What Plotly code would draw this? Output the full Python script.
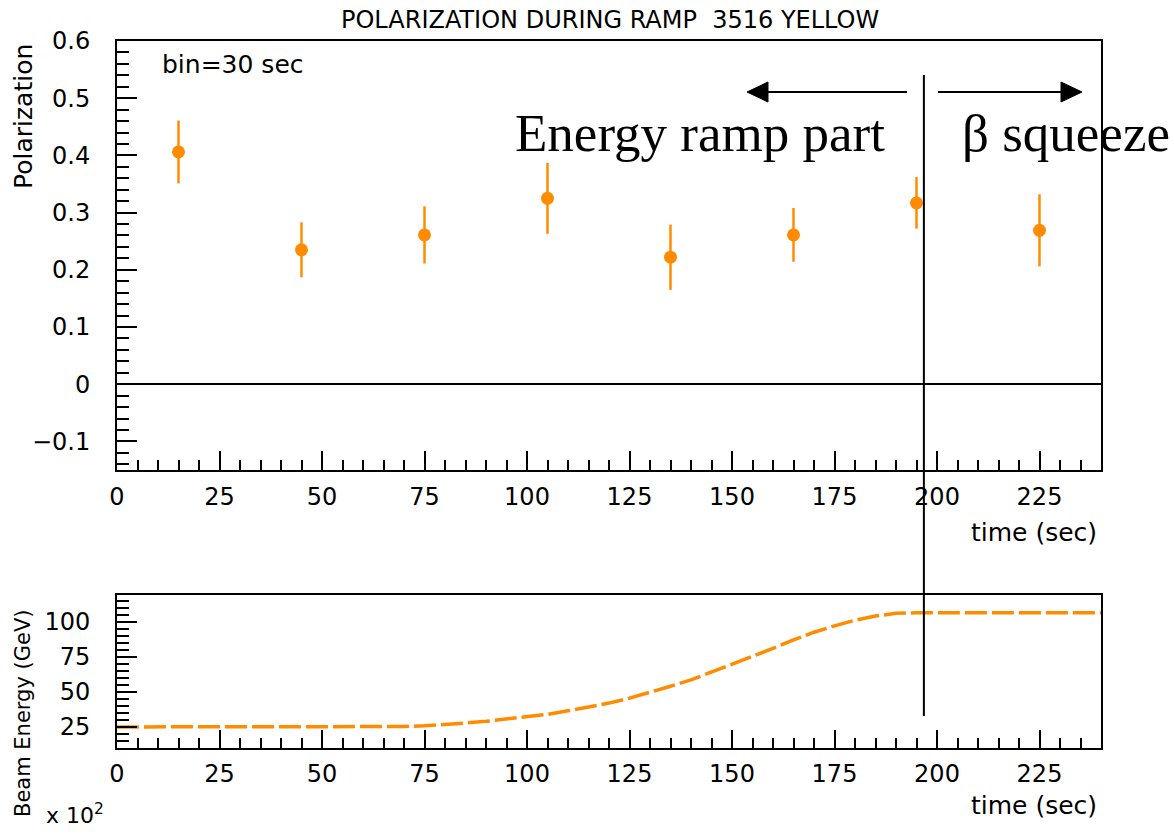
import plotly.graph_objects as go

# ---- data ----
bin_time = [15, 45, 75, 105, 135, 165, 195, 225]
polarization = [0.406, 0.235, 0.261, 0.325, 0.222, 0.261, 0.317, 0.269]
pol_error = [0.055, 0.048, 0.050, 0.062, 0.057, 0.047, 0.045, 0.063]

energy_time = [0, 10, 20, 30, 40, 50, 60, 70, 75, 80, 85, 90, 95, 100, 105, 110, 115,
               120, 125, 130, 135, 140, 145, 150, 155, 160, 165, 170, 175, 180, 185,
               190, 195, 200, 210, 220, 230, 240]
beam_energy = [25, 25, 25, 25, 25, 25, 25, 25.3, 25.8, 26.5, 27.8, 29, 30.5, 32, 34, 36.5, 39,
               42, 45.5, 49.5, 54, 58.5, 64, 70, 75.5, 81, 87, 92.5, 97, 101, 104,
               106, 106.3, 106.3, 106.3, 106.3, 106.3, 106.3]

x_ticks = [0, 25, 50, 75, 100, 125, 150, 175, 200, 225]
pol_ticks = [-0.1, 0, 0.1, 0.2, 0.3, 0.4, 0.5, 0.6]
energy_ticks = [25, 50, 75, 100]
split_time = 196.8

ORANGE = "rgb(255,140,0)"
FONT = "DejaVu Sans"


def px(xp):
    return (xp - 117) / 984


def py(yp):
    return (748 - yp) / 707


fig = go.Figure()
fig.add_trace(go.Scatter(
    x=bin_time, y=polarization, mode="markers",
    marker=dict(color=ORANGE, size=13, symbol="circle"),
    error_y=dict(type="data", array=pol_error, color=ORANGE, thickness=2.5, width=0),
    xaxis="x", yaxis="y", showlegend=False))
fig.add_trace(go.Scatter(
    x=energy_time, y=beam_energy, mode="lines",
    line=dict(color=ORANGE, width=3.5, dash="22px,5px"),
    xaxis="x2", yaxis="y2", showlegend=False))

axis_common = dict(showline=True, linecolor="black", linewidth=2, mirror=True,
                   showgrid=False, ticks="inside", tickcolor="black", tickwidth=2,
                   tickfont=dict(family=FONT, size=24, color="black"))

fig.update_layout(
    width=1174, height=836,
    margin=dict(l=117, r=73, t=41, b=88),
    paper_bgcolor="white", plot_bgcolor="white",
    xaxis=dict(domain=[0, 1], anchor="y", range=[0, 240], tickvals=x_ticks,
               ticklen=19, ticklabelstandoff=4,
               minor=dict(dtick=5, tick0=0, ticklen=10, ticks="inside", tickcolor="black", tickwidth=2),
               zeroline=False, **axis_common),
    yaxis=dict(domain=[0.3932, 1], anchor="x", range=[-0.15, 0.6], tickvals=pol_ticks,
               ticklen=20, ticklabelstandoff=20,
               minor=dict(dtick=0.02, tick0=0, ticklen=12, ticks="inside", tickcolor="black", tickwidth=2),
               zeroline=True, zerolinecolor="black", zerolinewidth=2, **axis_common),
    xaxis2=dict(domain=[0, 1], anchor="y2", range=[0, 240], tickvals=x_ticks,
                ticklen=18, ticklabelstandoff=3,
                minor=dict(dtick=5, tick0=0, ticklen=10, ticks="inside", tickcolor="black", tickwidth=2),
                zeroline=False, **axis_common),
    yaxis2=dict(domain=[0, 0.2164], anchor="x2", range=[10, 119], tickvals=energy_ticks,
                ticklen=20, ticklabelstandoff=20,
                minor=dict(dtick=5, tick0=0, ticklen=12, ticks="inside", tickcolor="black", tickwidth=2),
                zeroline=False, **axis_common),
)

# vertical divider
fig.add_shape(type="line", xref="x", yref="paper", x0=split_time, x1=split_time,
              y0=py(75), y1=py(716), line=dict(color="black", width=2))

# arrows (line + filled triangular head)
fig.add_shape(type="line", xref="paper", yref="paper", x0=px(907), x1=px(766),
              y0=py(92), y1=py(92), line=dict(color="black", width=1.8))
fig.add_shape(type="path", xref="paper", yref="paper",
              path=f"M {px(747)} {py(92)} L {px(768)} {py(82)} L {px(768)} {py(102)} Z",
              fillcolor="black", line=dict(color="black", width=1))
fig.add_shape(type="line", xref="paper", yref="paper", x0=px(938), x1=px(1063),
              y0=py(92), y1=py(92), line=dict(color="black", width=1.8))
fig.add_shape(type="path", xref="paper", yref="paper",
              path=f"M {px(1082)} {py(92)} L {px(1061)} {py(82)} L {px(1061)} {py(102)} Z",
              fillcolor="black", line=dict(color="black", width=1))

txt = dict(family=FONT, size=25, color="black")
ann = [
    dict(text="POLARIZATION DURING RAMP \u00a03516 YELLOW", x=0.501, y=py(20),
         xanchor="center", yanchor="middle", font=dict(family=FONT, size=24, color="black")),
    dict(text="bin=30 sec", x=px(160), y=py(65), xanchor="left", yanchor="middle", font=txt),
    dict(text="Polarization", x=-0.0955, y=py(117), textangle=-90,
         xanchor="center", yanchor="middle", font=txt),
    dict(text="Beam Energy (GeV)", x=-0.0955, y=py(714), textangle=-90,
         xanchor="center", yanchor="middle", font=dict(family=FONT, size=21, color="black")),
    dict(text="x 10<sup>2</sup>", x=px(75), y=py(814), xanchor="center",
         yanchor="middle", font=dict(family=FONT, size=22, color="black")),
    dict(text="time (sec)", x=0.998, y=py(532), xanchor="right", yanchor="middle", font=txt),
    dict(text="time (sec)", x=0.998, y=py(805), xanchor="right", yanchor="middle", font=txt),
    dict(text="Energy ramp part", x=px(887), y=py(133),
         xanchor="right", yanchor="middle",
         font=dict(family="Liberation Serif", size=53, color="black")),
    dict(text="\u03b2 squeeze", x=px(960), y=py(133),
         xanchor="left", yanchor="middle",
         font=dict(family="Liberation Serif", size=53, color="black")),
]
for a in ann:
    a.update(xref="paper", yref="paper", showarrow=False)
    fig.add_annotation(**a)

fig.write_html("out.html")
